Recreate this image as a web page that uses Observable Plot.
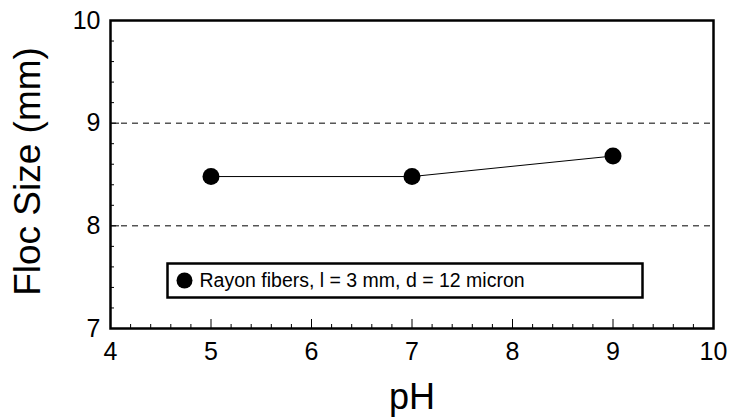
<!DOCTYPE html>
<html>
<head>
<meta charset="utf-8">
<script src="https://cdn.jsdelivr.net/npm/d3@7"></script>
<script src="https://cdn.jsdelivr.net/npm/@observablehq/plot@0.6"></script>
<style>
  html, body { margin: 0; padding: 0; background: white; }
</style>
</head>
<body>
<div id="chart"></div>
<script>
// Floc size measured at three pH levels
const pH = [5, 7, 9];
const flocSize = [8.48, 8.48, 8.68];
const seriesLabel = "Rayon fibers, l = 3 mm, d = 12 micron";

// Axis ticks
const xTicks = [4, 5, 6, 7, 8, 9, 10];
const yTicks = [7, 8, 9, 10];
const gridY = [8, 9];
const xMinor = d3.range(4.2, 10, 0.2).filter(v => Math.abs(v - Math.round(v)) > 1e-6);
const yMinor = d3.range(7.2, 10, 0.2).filter(v => Math.abs(v - Math.round(v)) > 1e-6);

const data = pH.map((x, i) => ({pH: x, size: flocSize[i]}));

const width = 731, height = 419;
const margin = {left: 110, right: 18, top: 20, bottom: 91};
const innerW = width - margin.left - margin.right;
const innerH = height - margin.top - margin.bottom;

const chart = Plot.plot({
  width, height,
  marginLeft: margin.left, marginRight: margin.right,
  marginTop: margin.top, marginBottom: margin.bottom,
  x: {domain: [4, 10], axis: null},
  y: {domain: [7, 10], axis: null},
  style: {fontFamily: "'Liberation Sans', Arial, Helvetica, sans-serif", color: "black", background: "white"},
  marks: [
    // inward tick marks along the bottom and left edges
    Plot.tickX(xMinor, {insetTop: innerH - 4, stroke: "black", strokeWidth: 1}),
    Plot.tickX(xTicks.slice(1, -1), {insetTop: innerH - 9, stroke: "black", strokeWidth: 1}),
    Plot.tickY(yMinor, {insetRight: innerW - 4, stroke: "black", strokeWidth: 1}),
    Plot.tickY(yTicks.slice(1, -1), {insetRight: innerW - 9, stroke: "black", strokeWidth: 1}),
    // dashed reference lines
    Plot.ruleY(gridY, {stroke: "black", strokeWidth: 1, strokeDasharray: "6,5"}),
    // tick labels
    Plot.text(xTicks, {x: d => d, text: d => String(d), frameAnchor: "bottom", textAnchor: "middle", lineAnchor: "top", dy: 14, fontSize: 25}),
    Plot.text(yTicks, {y: d => d, text: d => String(d), frameAnchor: "left", textAnchor: "end", lineAnchor: "middle", dx: -10, fontSize: 25}),
    // series
    Plot.line(data, {x: "pH", y: "size", stroke: "black", strokeWidth: 1}),
    Plot.dot(data, {x: "pH", y: "size", r: 8.5, fill: "black"}),
    // legend box
    Plot.frame({insetLeft: 57, insetRight: 71, insetTop: 243, insetBottom: 31, stroke: "black", strokeWidth: 2.5, fill: "white"}),
    Plot.dot([seriesLabel], {frameAnchor: "top-left", dx: 74, dy: 260, r: 8, fill: "black"}),
    Plot.text([seriesLabel], {text: d => d, frameAnchor: "top-left", dx: 89, dy: 260, textAnchor: "start", lineAnchor: "middle", fontSize: 19.5}),
    // axis titles
    Plot.text(["pH"], {text: d => d, frameAnchor: "bottom", textAnchor: "middle", lineAnchor: "top", dy: 55, fontSize: 36}),
    Plot.text(["Floc Size (mm)"], {text: d => d, frameAnchor: "left", textAnchor: "middle", lineAnchor: "middle", rotate: -90, dx: -82, dy: -3, fontSize: 37}),
    // plot border
    Plot.frame({stroke: "black", strokeWidth: 2.5})
  ]
});

document.getElementById("chart").appendChild(chart);
</script>
</body>
</html>
